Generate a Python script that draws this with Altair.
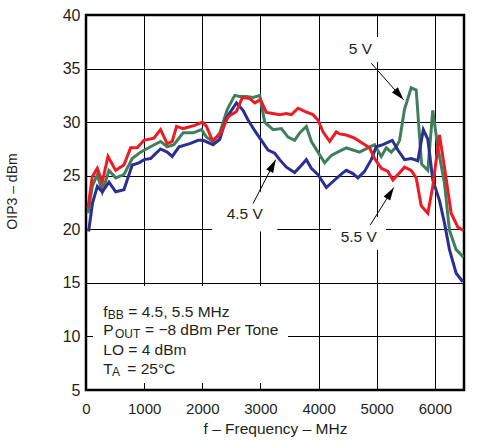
import math
import altair as alt
import pandas as pd

# ---------------- data ----------------
series_names = ["5 V", "4.5 V", "5.5 V"]
series_colors = ["#3f7f5c", "#2b3090", "#ec1c24"]

freq_5v = [34, 108, 194, 280, 395, 510, 652, 795, 938, 1110, 1282, 1396, 1511, 1671,
           1843, 1986, 2072, 2186, 2300, 2430, 2558, 2644, 2759, 2873, 2988, 3073,
           3216, 3360, 3474, 3588, 3674, 3789, 3875, 3989, 4104, 4219, 4361, 4476,
           4590, 4704, 4847, 4962, 5077, 5163, 5249, 5335, 5392, 5477, 5592, 5678,
           5770, 5878, 5963, 6049, 6164, 6250, 6365, 6490]
oip3_5v = [21.5, 24.0, 25.1, 23.5, 25.5, 24.8, 25.1, 26.6, 27.2, 27.7, 28.2, 27.7, 27.9, 29.0,
           29.0, 29.3, 28.6, 28.2, 29.0, 31.2, 32.5, 32.4, 32.4, 32.3, 32.5, 30.0,
           29.3, 29.4, 28.6, 28.3, 29.0, 29.6, 28.2, 27.2, 26.2, 26.9, 27.3, 27.6,
           27.4, 27.2, 27.6, 27.9, 26.8, 27.6, 27.2, 27.7, 28.3, 31.2, 33.2, 33.0,
           26.1, 25.5, 31.1, 27.7, 24.3, 19.9, 18.1, 17.4]

freq_45v = [45, 110, 195, 280, 395, 510, 652, 795, 910, 1000, 1110, 1280, 1396, 1482,
            1600, 1786, 1928, 2014, 2186, 2300, 2415, 2587, 2700, 2787, 2902, 3016,
            3130, 3245, 3330, 3446, 3588, 3674, 3789, 3875, 3990, 4133, 4276, 4400,
            4476, 4590, 4676, 4790, 4905, 4991, 5105, 5266, 5363, 5477, 5592, 5706,
            5800, 5878, 5963, 6078, 6164, 6250, 6365, 6479]
oip3_45v = [19.8, 22.4, 24.0, 23.5, 24.4, 23.5, 23.7, 26.0, 26.2, 26.5, 26.6, 27.5, 27.2, 26.8,
            27.7, 28.0, 28.3, 28.3, 27.9, 28.4, 30.4, 31.8, 31.1, 30.2, 29.2, 28.3,
            27.4, 27.1, 26.5, 25.8, 25.3, 25.8, 26.5, 25.7, 25.1, 23.9, 24.6, 25.2,
            25.5, 25.2, 24.8, 25.4, 26.5, 27.7, 27.9, 28.3, 27.4, 26.5, 26.6, 26.4,
            29.3, 28.4, 24.6, 22.7, 20.6, 18.1, 15.9, 15.1]

freq_55v = [34, 108, 194, 280, 378, 510, 652, 767, 881, 996, 1168, 1282, 1396, 1482,
            1557, 1671, 1872, 2003, 2072, 2172, 2300, 2444, 2587, 2690, 2816, 2902,
            3000, 3102, 3216, 3330, 3446, 3531, 3646, 3760, 3903, 3989, 4075, 4190,
            4304, 4361, 4476, 4619, 4762, 4876, 4962, 5077, 5191, 5277, 5363, 5477,
            5592, 5678, 5764, 5878, 5963, 6078, 6164, 6279, 6394, 6490]
oip3_55v = [22.0, 24.9, 25.7, 24.4, 26.8, 25.5, 26.0, 27.6, 27.6, 28.3, 28.5, 29.3, 28.0, 28.2,
            29.6, 29.4, 29.7, 30.0, 29.6, 28.3, 28.8, 30.5, 31.0, 32.3, 32.2, 31.8,
            32.1, 30.9, 30.8, 30.7, 30.8, 30.7, 31.3, 31.0, 30.7, 30.2, 29.1, 28.2,
            29.1, 28.9, 28.8, 28.5, 28.0, 27.6, 26.6, 25.7, 25.4, 24.6, 25.1, 25.8,
            25.5, 24.8, 22.2, 21.5, 24.0, 28.8, 25.8, 21.5, 20.2, 19.9]

x_ticks = [0, 1000, 2000, 3000, 4000, 5000, 6000]
y_ticks = [5, 10, 15, 20, 25, 30, 35, 40]

# annotation labels and arrows (data coordinates)
label_text = ["5 V", "4.5 V", "5.5 V"]
label_f = [4720, 2730, 4690]
label_v = [36.8, 21.4, 19.3]
arrow_f0 = [4905, 2873, 4888]
arrow_v0 = [35.5, 22.4, 20.4]
arrow_f1 = [5460, 3262, 5293]
arrow_v1 = [32.1, 26.5, 23.9]

# white backgrounds behind texts (hide grid lines)
box_f0 = [120, 2170, 4213, 4454]
box_f1 = [3474, 3290, 5159, 5056]
box_v0 = [5.65, 19.8, 18.07, 35.61]
box_v1 = [14.71, 23.5, 21.15, 37.95]

# condition text block
cond_main = ["f", "= 4.5, 5.5 MHz", "P", "= \u22128 dBm Per Tone", "LO = 4 dBm", "T", "= 25\u00b0C"]
cond_main_f = [298, 727, 298, 1015, 298, 298, 710]
cond_main_v = [11.86, 11.86, 10.13, 10.13, 8.27, 6.54, 6.54]
cond_sub = ["BB", "OUT", "A"]
cond_sub_f = [373, 499, 445]
cond_sub_v = [11.86, 10.13, 6.54]

# ---------------- layout ----------------
W, H = 378, 375
X_MAX = 6500
Y_MIN, Y_MAX = 5, 40
FONT = "Liberation Sans"
TXT = "#231f20"

rows = []
for name, fs, vs in [("5 V", freq_5v, oip3_5v), ("4.5 V", freq_45v, oip3_45v), ("5.5 V", freq_55v, oip3_55v)]:
    for f, v in zip(fs, vs):
        rows.append({"series": name, "f": f, "v": v})
df = pd.DataFrame(rows)

xs = alt.Scale(domain=[0, X_MAX], nice=False, zero=False)
ys = alt.Scale(domain=[Y_MIN, Y_MAX], nice=False, zero=False)

x_axis = alt.Axis(
    values=x_ticks, format="d", grid=True, gridColor="black", gridWidth=1, gridOpacity=1,
    ticks=False, domain=False, labelFont=FONT, labelFontSize=15, labelColor=TXT,
    labelPadding=11, labelFlush=False,
    title="f \u2013 Frequency \u2013 MHz", titleFont=FONT, titleFontSize=15.5,
    titleFontWeight="normal", titleColor=TXT, titleX=W / 2, titleY=43,
    titleAlign="center", titleBaseline="alphabetic")
y_axis = alt.Axis(
    values=y_ticks, format="d", grid=True, gridColor="black", gridWidth=1, gridOpacity=1,
    ticks=False, domain=False, labelFont=FONT, labelFontSize=16, labelColor=TXT,
    labelPadding=6, labelFlush=False,
    title="OIP3 \u2013 dBm", titleFont=FONT, titleFontSize=14,
    titleFontWeight="normal", titleColor=TXT, titleX=-74, titleY=176,
    titleAngle=270, titleAlign="center", titleBaseline="middle")


def X(field):
    return alt.X(field, scale=xs, axis=x_axis)


def Y(field):
    return alt.Y(field, scale=ys, axis=y_axis)


boxes = alt.Chart(pd.DataFrame({"f0": box_f0, "f1": box_f1, "v0": box_v0, "v1": box_v1})).mark_rect(
    color="white"
).encode(x=X("f0:Q"), x2="f1:Q", y=Y("v0:Q"), y2="v1:Q")

lines = alt.Chart(df).mark_line(strokeWidth=3, clip=True).encode(
    x=X("f:Q"),
    y=Y("v:Q"),
    color=alt.Color("series:N", scale=alt.Scale(domain=series_names, range=series_colors), legend=None),
    detail="series:N",
)

# arrow geometry: angle computed in pixel space from the scales
px_per_f = W / X_MAX
px_per_v = H / (Y_MAX - Y_MIN)
angles = []
for a0, b0, a1, b1 in zip(arrow_f0, arrow_v0, arrow_f1, arrow_v1):
    dx = (a1 - a0) * px_per_f
    dy = -(b1 - b0) * px_per_v
    angles.append((math.degrees(math.atan2(dx, -dy)) + 360) % 360)

arr_df = pd.DataFrame({"f0": arrow_f0, "v0": arrow_v0, "f1": arrow_f1, "v1": arrow_v1, "ang": angles})

arrow_lines = alt.Chart(arr_df).mark_rule(color="black", strokeWidth=1).encode(
    x=X("f0:Q"), y=Y("v0:Q"), x2="f1:Q", y2="v1:Q",
)

arrow_heads = alt.Chart(arr_df).mark_point(
    shape="M0,0L-0.6,2L0.6,2Z", filled=True, color="black", opacity=1, size=169
).encode(
    x=X("f1:Q"), y=Y("v1:Q"),
    angle=alt.Angle("ang:Q", scale=None),
)

labels = alt.Chart(pd.DataFrame({"t": label_text, "f": label_f, "v": label_v})).mark_text(
    font=FONT, fontSize=15.5, color=TXT, align="center", baseline="middle"
).encode(x=X("f:Q"), y=Y("v:Q"), text="t:N")

cond_a = alt.Chart(pd.DataFrame({"t": cond_main, "f": cond_main_f, "v": cond_main_v})).mark_text(
    font=FONT, fontSize=15.5, color=TXT, align="left", baseline="alphabetic"
).encode(x=X("f:Q"), y=Y("v:Q"), text="t:N")

cond_b = alt.Chart(pd.DataFrame({"t": cond_sub, "f": cond_sub_f, "v": cond_sub_v})).mark_text(
    font=FONT, fontSize=12, color=TXT, align="left", baseline="alphabetic", dy=2.5
).encode(x=X("f:Q"), y=Y("v:Q"), text="t:N")

chart = alt.layer(boxes, lines, arrow_lines, arrow_heads, labels, cond_a, cond_b).properties(
    width=W, height=H,
    autosize=alt.AutoSizeParams(type="none"),
    padding={"left": 86, "top": 15, "right": 33, "bottom": 55},
    background="white",
).configure_view(stroke="black", strokeWidth=2.5)

chart.save("out.html", embed_options={"renderer": "svg", "actions": False})
